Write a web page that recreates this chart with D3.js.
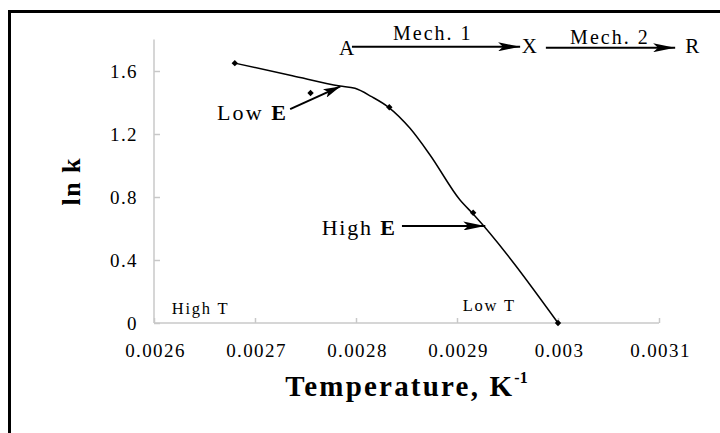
<!DOCTYPE html>
<html>
<head>
<meta charset="utf-8">
<script src="https://cdn.jsdelivr.net/npm/d3@7"></script>
<style>
  html, body { margin: 0; padding: 0; background: #fff; }
  svg { display: block; font-family: "Liberation Serif", "Times New Roman", serif; }
</style>
</head>
<body>
<svg id="chart" width="720" height="433"></svg>
<script>
// Measured rate constants (Arrhenius plot)
const invT = [0.00268, 0.002755, 0.002833, 0.002916, 0.003];
const lnK  = [1.65, 1.46, 1.37, 0.70, 0];

// Hand-fitted trend curve through the measurements
const fitInvT = [0.00268, 0.002737, 0.002784, 0.002799, 0.0028155, 0.002832, 0.0028535, 0.0028733, 0.002903, 0.002916, 0.003];
const fitLnK  = [1.65, 1.57, 1.505, 1.49, 1.437, 1.371, 1.236, 1.067, 0.781, 0.692, 0];

// Axis ticks and their labels
const xTicks = [0.0026, 0.0027, 0.0028, 0.0029, 0.003, 0.0031];
const xTickLabels = ["0.0026", "0.0027", "0.0028", "0.0029", "0.003", "0.0031"];
const yTicks = [0, 0.4, 0.8, 1.2, 1.6];
const yTickLabels = ["0", "0.4", "0.8", "1.2", "1.6"];

const svg = d3.select("#chart");
svg.append("rect").attr("width", 720).attr("height", 433).attr("fill", "#fff");

// outer frame
svg.append("rect")
  .attr("x", 9.5).attr("y", 11.5).attr("width", 740).attr("height", 460)
  .attr("fill", "none").attr("stroke", "#000").attr("stroke-width", 3);

const x = d3.scaleLinear().domain([0.0026, 0.0031]).range([154, 659]);
const y = d3.scaleLinear().domain([0, 1.8]).range([323, 39.5]);

const axisColor = "#c8c8c8";

// arrowheads
const defs = svg.append("defs");
function head(id, len, wid) {
  defs.append("marker")
    .attr("id", id).attr("markerUnits", "userSpaceOnUse")
    .attr("viewBox", `0 0 ${len} ${wid}`)
    .attr("markerWidth", len).attr("markerHeight", wid)
    .attr("refX", len).attr("refY", wid / 2).attr("orient", "auto")
    .append("path")
    .attr("d", `M0,0 L${len},${wid / 2} L0,${wid} L${len * 0.22},${wid / 2} Z`)
    .attr("fill", "#000");
}
head("headS", 17, 9);
head("headL", 22, 9);

// axes
const xAxis = d3.axisBottom(x).tickValues(xTicks).tickSize(-5).tickPadding(0)
  .tickFormat((d, i) => xTickLabels[i]);
const yAxis = d3.axisLeft(y).tickValues(yTicks).tickSize(-6).tickPadding(0)
  .tickFormat((d, i) => yTickLabels[i]);

const gx = svg.append("g").attr("transform", `translate(0,${y(0)})`).call(xAxis);
const gy = svg.append("g").attr("transform", `translate(${x(0.0026)},0)`).call(yAxis);

[gx, gy].forEach(g => {
  g.select(".domain").remove();
  g.selectAll(".tick line").attr("stroke", axisColor).attr("stroke-width", 1.5);
  g.selectAll("text")
    .attr("fill", "#000")
    .attr("font-family", "Liberation Serif, serif")
    .attr("font-size", 19)
    .attr("letter-spacing", 1.4);
});
gx.selectAll("text").attr("dy", null).attr("y", 34).attr("dx", 1);
gy.selectAll("text").attr("x", -16).attr("dy", "0.34em");

// axis lines
svg.append("line")
  .attr("x1", x(0.0026)).attr("x2", x(0.0031)).attr("y1", y(0)).attr("y2", y(0))
  .attr("stroke", axisColor).attr("stroke-width", 1.5);
svg.append("line")
  .attr("x1", x(0.0026)).attr("x2", x(0.0026)).attr("y1", y(1.8)).attr("y2", y(0))
  .attr("stroke", axisColor).attr("stroke-width", 1.5);

// axis titles
const xt = svg.append("text")
  .attr("x", (x(0.0026) + x(0.0031)) / 2).attr("y", 396)
  .attr("text-anchor", "middle").attr("font-weight", "bold")
  .attr("font-size", 29).attr("letter-spacing", 2.2);
xt.append("tspan").text("Temperature, K");
xt.append("tspan").text("-1").attr("font-size", 16).attr("dy", -13).attr("letter-spacing", 0);

svg.append("text")
  .attr("transform", `translate(80,${(y(0) + y(1.8)) / 2}) rotate(-90)`)
  .attr("text-anchor", "middle").attr("font-weight", "bold")
  .attr("font-size", 26).attr("letter-spacing", 1.5)
  .text("ln k");

// trend curve
const fit = fitInvT.map((t, i) => [t, fitLnK[i]]);
svg.append("path")
  .datum(fit)
  .attr("d", d3.line().x(d => x(d[0])).y(d => y(d[1])).curve(d3.curveMonotoneX))
  .attr("fill", "none").attr("stroke", "#000").attr("stroke-width", 1.5);

// data points
svg.append("g").selectAll("path")
  .data(invT.map((t, i) => [t, lnK[i]]))
  .join("path")
  .attr("transform", d => `translate(${x(d[0])},${y(d[1])})`)
  .attr("d", d3.symbol(d3.symbolDiamond2, 26))
  .attr("fill", "#000");

// annotations
function arrow(x1, y1, x2, y2, marker) {
  svg.append("line")
    .attr("x1", x(x1)).attr("y1", y(y1)).attr("x2", x(x2)).attr("y2", y(y2))
    .attr("stroke", "#000").attr("stroke-width", 2)
    .attr("marker-end", `url(#${marker})`);
}
function label(tx, ty, parts, size, anchor, spacing) {
  const t = svg.append("text")
    .attr("x", x(tx)).attr("y", y(ty))
    .attr("font-size", size).attr("text-anchor", anchor || "start")
    .attr("letter-spacing", spacing == null ? 1.5 : spacing);
  parts.forEach(p => t.append("tspan").text(p[0]).attr("font-weight", p[1] ? "bold" : "normal"));
  return t;
}

// Low E / High E
label(0.0026624, 1.286, [["Low ", false], ["E", true]], 22, "start", 2.1);
arrow(0.0027348, 1.358, 0.0027845, 1.502, "headS");
label(0.002766, 0.559, [["High ", false], ["E", true]], 22, "start", 1.8);
arrow(0.0028455, 0.616, 0.002928, 0.616, "headL");

// High T / Low T
label(0.0026175, 0.06, [["High T", false]], 16.5, "start", 1.8);
label(0.0029056, 0.078, [["Low T", false]], 16.5, "start", 1.8);

// reaction scheme A → X → R
label(0.0027832, 1.70, [["A", false]], 21, "start", 0);
arrow(0.002796, 1.754, 0.0029625, 1.754, "headL");
label(0.0028367, 1.797, [["Mech. 1", false]], 20, "start", 2.0);
label(0.0029640, 1.712, [["X", false]], 21, "start", 0);
arrow(0.0029880, 1.748, 0.0031160, 1.748, "headL");
label(0.0030120, 1.772, [["Mech. 2", false]], 20, "start", 2.0);
label(0.0031260, 1.712, [["R", false]], 21, "start", 0);
</script>
</body>
</html>
